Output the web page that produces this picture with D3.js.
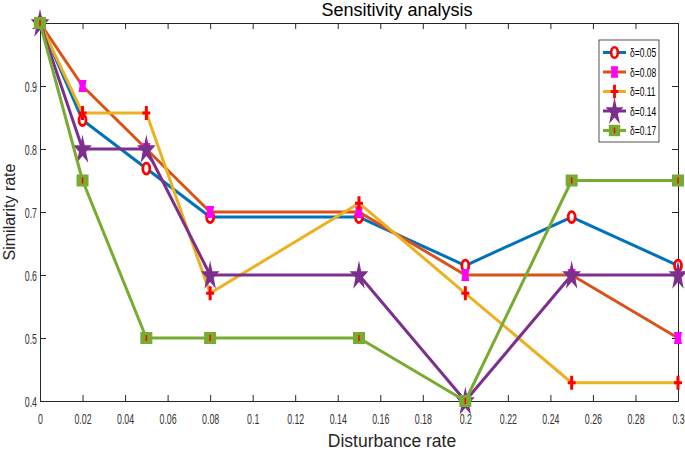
<!DOCTYPE html>
<html>
<head>
<meta charset="utf-8">
<script src="https://cdn.jsdelivr.net/npm/d3@7"></script>
<style>
  body { margin: 0; background: #fff; }
  svg { display: block; font-family: "Liberation Sans", Arial, sans-serif; }
</style>
</head>
<body>
<svg width="685" height="454"></svg>
<script>
const xValues = [0, 0.02, 0.05, 0.08, 0.15, 0.2, 0.25, 0.3];
const seriesNames = ["δ=0.05", "δ=0.08", "δ=0.11", "δ=0.14", "δ=0.17"];
const s005 = [1, 0.846, 0.769, 0.692, 0.692, 0.615, 0.692, 0.615];
const s008 = [1, 0.9, 0.8, 0.7, 0.7, 0.6, 0.6, 0.5];
const s011 = [1, 0.857, 0.857, 0.571, 0.714, 0.571, 0.429, 0.429];
const s014 = [1, 0.8, 0.8, 0.6, 0.6, 0.4, 0.6, 0.6];
const s017 = [1, 0.75, 0.5, 0.5, 0.5, 0.4, 0.75, 0.75];
const xTicks = d3.range(0, 0.3001, 0.02);
const yTicks = [0.4, 0.5, 0.6, 0.7, 0.8, 0.9, 1];

const lineColors = ["#0072BD", "#D95319", "#EDB120", "#7E2F8E", "#77AC30"];
const markerTypes = ["o", "sq", "plus", "star", "box"];
const allSeries = [s005, s008, s011, s014, s017].map((vals, i) => ({
  name: seriesNames[i], color: lineColors[i], marker: markerTypes[i],
  points: vals.map((v, j) => ({ x: xValues[j], y: v }))
}));

const svg = d3.select("svg");
const mLeft = 40, mRight = 678, mTop = 23, mBottom = 401;
const squeeze = 0.63; // tick labels are drawn narrow

const x = d3.scaleLinear().domain([0, 0.3]).range([mLeft, mRight]);
const y = d3.scaleLinear().domain([0.4, 1]).range([mBottom, mTop]);

const axisColor = "#262626";
const fmt = d => (Math.abs(d - 1) < 1e-9 ? "1" : (+d.toFixed(2)).toString());

// axes with inward ticks (box on)
const gx = svg.append("g").attr("transform", `translate(0,${mBottom})`)
  .call(d3.axisBottom(x).tickValues(xTicks).tickSizeInner(-6).tickSizeOuter(0).tickPadding(14).tickFormat(fmt));
const gxt = svg.append("g").attr("transform", `translate(0,${mTop})`)
  .call(d3.axisTop(x).tickValues(xTicks).tickSizeInner(-6).tickSizeOuter(0).tickFormat(""));
const gy = svg.append("g").attr("transform", `translate(${mLeft},0)`)
  .call(d3.axisLeft(y).tickValues(yTicks).tickSizeInner(-6).tickSizeOuter(0).tickPadding(10).tickFormat(fmt));
const gyr = svg.append("g").attr("transform", `translate(${mRight},0)`)
  .call(d3.axisRight(y).tickValues(yTicks).tickSizeInner(-6).tickSizeOuter(0).tickFormat(""));

[gx, gxt, gy, gyr].forEach(g => {
  g.attr("font-family", null).attr("font-size", null);
  g.select(".domain").attr("stroke", axisColor).attr("stroke-width", 1);
  g.selectAll(".tick line").attr("stroke", axisColor);
  g.selectAll(".tick text").attr("fill", "#333").attr("font-size", 14);
});
gx.selectAll(".tick text").attr("y", 13).attr("transform", `scale(${squeeze},1)`);
gy.selectAll(".tick text").attr("x", 0).attr("dy", "0.36em")
  .attr("transform", `translate(-3,0) scale(${squeeze},1)`);

// title and labels
svg.append("text").attr("x", 397).attr("y", 16)
  .attr("text-anchor", "middle").attr("font-size", 18).attr("fill", "#000")
  .text("Sensitivity analysis");
svg.append("text").attr("x", 392).attr("y", 447)
  .attr("text-anchor", "middle").attr("font-size", 17.5).attr("fill", axisColor)
  .text("Disturbance rate");
svg.append("text").attr("transform", `translate(15,${(mTop + mBottom) / 2}) rotate(-90)`)
  .attr("text-anchor", "middle").attr("font-size", 16).attr("fill", axisColor)
  .text("Similarity rate");

function drawMarker(g, type, cx, cy, scale) {
  const k = scale || 1;
  const m = g.append("g").attr("transform", `translate(${cx},${cy}) scale(${k})`);
  if (type === "o") {
    m.append("ellipse").attr("rx", 3.5).attr("ry", 5.5).attr("fill", "#fff")
      .attr("stroke", "#FF0000").attr("stroke-width", 2.8);
  } else if (type === "sq") {
    m.append("path").attr("d", "M-4,-6 L4,-6 L3,0 L4,6 L-4,6 L-3,0 Z").attr("fill", "#FF00FF");
  } else if (type === "plus") {
    m.append("path").attr("d", "M0,-7 V7 M-4,0 H4").attr("stroke", "#FF0000").attr("stroke-width", 3);
  } else if (type === "star") {
    m.append("path").attr("d", d3.symbol(d3.symbolStar, 150)())
      .attr("transform", "translate(0,1) scale(0.85,1.35)").attr("fill", "#7E2F8E");
  } else if (type === "box") {
    m.append("rect").attr("x", -6).attr("y", -6).attr("width", 12).attr("height", 12).attr("fill", "#77AC30");
    m.append("line").attr("y1", -3).attr("y2", 3).attr("stroke", "#FF0000").attr("stroke-width", 1.5);
  }
}

const line = d3.line().x(d => x(d.x)).y(d => y(d.y));
const plot = svg.append("g");
allSeries.forEach(s => {
  const g = plot.append("g");
  g.append("path").datum(s.points).attr("d", line).attr("fill", "none")
    .attr("stroke", s.color).attr("stroke-width", 3).attr("stroke-linejoin", "round");
  s.points.forEach(p => drawMarker(g, s.marker, x(p.x), y(p.y)));
});

// legend
const lg = svg.append("g").attr("transform", "translate(599,40)");
lg.append("rect").attr("width", 60).attr("height", 102).attr("fill", "#fff")
  .attr("stroke", axisColor).attr("stroke-width", 0.8);
allSeries.forEach((s, i) => {
  const yy = 12.5 + i * 19.5;
  lg.append("line").attr("x1", 4).attr("x2", 27).attr("y1", yy).attr("y2", yy)
    .attr("stroke", s.color).attr("stroke-width", 3);
  drawMarker(lg, s.marker, 15.5, yy, 0.95);
  lg.append("text").attr("transform", `translate(31,${yy + 4.5}) scale(0.68,1)`)
    .attr("font-size", 12.5).attr("fill", "#000").text(s.name);
});
</script>
</body>
</html>
